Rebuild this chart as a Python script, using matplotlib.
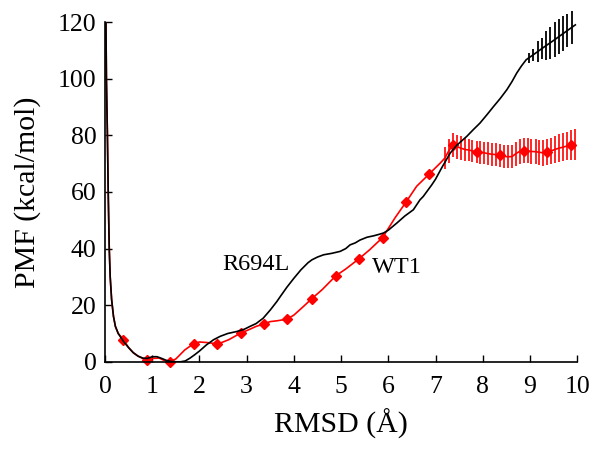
import matplotlib
matplotlib.use("Agg")
import matplotlib.pyplot as plt

# R694L (black) PMF profile
r694l_x = [0.02, 0.03, 0.05, 0.07, 0.09, 0.11, 0.14, 0.18, 0.22, 0.28, 0.34, 0.4, 0.5, 0.6, 0.7, 0.8,
           0.9, 1.0, 1.1, 1.2, 1.3, 1.4, 1.5, 1.6, 1.7, 1.8, 1.9, 2.0, 2.15, 2.3, 2.44, 2.6, 2.79,
           2.95, 3.07, 3.2, 3.35, 3.5, 3.64, 3.71, 3.85, 4.0, 4.15, 4.3, 4.38, 4.5, 4.63, 4.8, 4.98,
           5.1, 5.19, 5.3, 5.4, 5.55, 5.69, 5.8, 5.9, 6.0, 6.18, 6.35, 6.53, 6.67, 6.74, 6.92, 7.0,
           7.13, 7.31, 7.45, 7.66, 7.8, 7.94, 8.1, 8.23, 8.37, 8.51, 8.62, 8.72, 8.82, 8.92, 9.1,
           9.3, 9.5, 9.7, 9.96]
r694l_y = [120, 100, 81, 58, 40, 30, 22, 16, 12.5, 10, 8.5, 7, 5, 3.2, 2, 1.3,
           1.2, 1.8, 1.8, 1.2, 0.5, 0.1, 0, 0, 0.3, 1.3, 2.5, 3.8, 6, 7.8, 9, 10, 10.7,
           11.5, 12.5, 13.5, 15.4, 18.3, 21.3, 23.0, 26.3, 29.5, 32.5, 35, 36, 37, 37.8, 38.3, 39,
           40, 41.3, 42, 43, 44, 44.5, 45, 45.5, 46.5, 49, 51.5, 53.7, 57.2, 58.4, 62.5, 64.5,
           68.5, 73.7, 76.5, 79.6, 82, 84.3, 87.5, 90.2, 93, 96.1, 99, 102, 104.5, 106.7, 108.8,
           111.2, 113.5, 115.9, 119]

# R694L error bars
r694l_err_x = [8.98, 9.07, 9.16, 9.25, 9.34, 9.43, 9.52, 9.61, 9.70, 9.79, 9.88]
r694l_err_y = [107.4, 108.5, 109.6, 110.6, 111.7, 112.7, 113.8, 114.9, 115.9, 117.0, 118.0]
r694l_err = [1.8, 2.1, 3.7, 3.8, 5.0, 5.6, 6.2, 6.3, 6.2, 5.9, 5.9]

# WT1 (red) PMF profile
wt1_x = [0.02, 0.03, 0.05, 0.07, 0.09, 0.11, 0.14, 0.18, 0.22, 0.28, 0.39, 0.5, 0.6, 0.7, 0.8,
         0.9, 1.0, 1.15, 1.25, 1.38, 1.5, 1.69, 1.8, 1.89, 2.0, 2.16, 2.3, 2.38, 2.5, 2.62, 2.75,
         2.87, 3.0, 3.2, 3.37, 3.5, 3.65, 3.86, 4.0, 4.2, 4.38, 4.6, 4.89, 5.1, 5.38, 5.6, 5.88,
         6.14, 6.37, 6.6, 6.87, 7.1,
         7.20, 7.28, 7.37, 7.45, 7.53, 7.62, 7.70, 7.78, 7.87, 7.95, 8.03, 8.12, 8.20, 8.28,
         8.37, 8.45, 8.53, 8.62, 8.70, 8.78, 8.87, 8.95, 9.03, 9.12, 9.20, 9.28, 9.37, 9.45,
         9.53, 9.62, 9.70, 9.78, 9.87, 9.95]
wt1_y = [120, 100, 81, 58, 40, 30, 22, 16, 12.5, 10, 7.8, 5, 3.2, 2, 1.2,
         0.7, 1.2, 1.3, 0.5, 0.1, 1, 4.2, 5.5, 6.4, 7, 6.8, 6.5, 6.2, 7, 7.8, 9,
         10.1, 11, 12.5, 13.4, 14.2, 14.5, 15.1, 16.5, 19.5, 22.3, 25.5, 30.4, 32.8, 36.4, 39.5, 43.9,
         50.8, 56.3, 62, 66.4, 70.2,
         72, 74.5, 76.6, 76, 75.5, 75, 74.8, 74.5, 74.1, 74, 73.8, 73.5, 73.3, 73.2,
         73.0, 72.6, 72.4, 72.5, 73.5, 74.3, 74.6, 74.5, 74.3, 74.2, 74.0, 73.8, 74.0, 74.5,
         75.0, 75.5, 75.8, 76.2, 76.5, 76.7]

# WT1 markers
wt1_mark_x = [0.39, 0.90, 1.38, 1.89, 2.38, 2.87, 3.37, 3.86, 4.38, 4.89, 5.38, 5.88, 6.37, 6.87,
              7.37, 7.87, 8.37, 8.87, 9.37, 9.87]
wt1_mark_y = [7.8, 0.7, 0.1, 6.4, 6.2, 10.1, 13.4, 15.1, 22.3, 30.4, 36.4, 43.9, 56.3, 66.4,
              76.6, 74.1, 73.0, 74.6, 74.0, 76.5]

# WT1 error bars
wt1_err_x = wt1_x[52:]
wt1_err_y = wt1_y[52:]
wt1_err = [4.0, 4.2, 4.3, 4.2, 4.1, 4.1, 4.0, 4.0, 4.0, 4.0, 4.0, 4.0, 4.0, 4.0,
           4.1, 4.1, 4.1, 4.2, 4.3, 4.4, 4.4, 4.4, 4.4, 4.5, 4.5, 4.5, 4.6, 4.6,
           4.7, 4.8, 4.9, 5.0, 5.2, 5.5]

xticks = [0, 1, 2, 3, 4, 5, 6, 7, 8, 9, 10]
yticks = [0, 20, 40, 60, 80, 100, 120]

plt.rcParams['font.family'] = ['Liberation Serif', 'DejaVu Serif']

fig = plt.figure(figsize=(6, 4.5), dpi=100)
ax = fig.add_axes([0.175, 0.196, 0.787, 0.755])

ax.plot(r694l_x, r694l_y, color='black', lw=1.2, zorder=3)
eb1 = ax.errorbar(r694l_err_x, r694l_err_y, yerr=r694l_err, fmt='none', ecolor='black',
                  elinewidth=1.3, capsize=0, zorder=3)
for c in eb1.get_children():
    c.set_clip_on(False)

ax.plot(wt1_x, wt1_y, color='#ff0000', lw=1.2, zorder=2)
eb2 = ax.errorbar(wt1_err_x, wt1_err_y, yerr=wt1_err, fmt='none', ecolor='#ff0000',
                  elinewidth=1.2, capsize=0, zorder=2)
for c in eb2.get_children():
    c.set_clip_on(False)
ax.plot(wt1_mark_x, wt1_mark_y, linestyle='none', marker='D', markersize=5,
        color='#ff0000', zorder=2, clip_on=False)

ax.text(2.48, 34.3, 'R694L', fontsize=17.5, ha='left', va='center')
ax.text(5.65, 33.4, 'WT1', fontsize=17.5, ha='left', va='center')

ax.set_xlim(0, 10)
ax.set_ylim(0, 120)
ax.set_xticks(xticks)
ax.set_yticks(yticks)
ax.tick_params(direction='in', length=5, width=1, labelsize=18.5)
ax.tick_params(axis='x', pad=10)
ax.tick_params(axis='y', pad=6)
for s in ['top', 'right']:
    ax.spines[s].set_visible(False)
for s in ['left', 'bottom']:
    ax.spines[s].set_linewidth(1.2)

ax.set_xlabel('RMSD (Å)', fontsize=21.5, labelpad=8)
ax.set_ylabel('PMF (kcal/mol)', fontsize=21.5, labelpad=12)

fig.savefig('out.png', dpi=100)
